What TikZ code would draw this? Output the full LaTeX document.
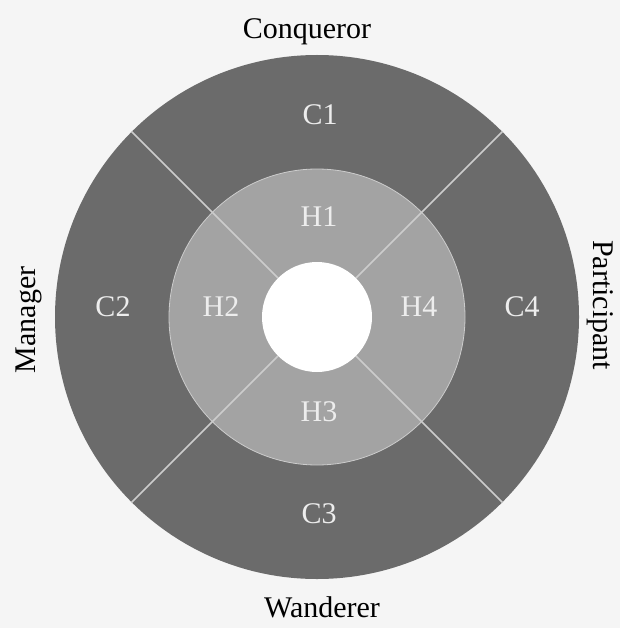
\documentclass[tikz,border=0pt]{standalone}
\usepackage{fontspec}
\setmainfont{Liberation Serif}
\usepackage{tikz}
\usetikzlibrary{calc}
\definecolor{outergray}{gray}{0.42}
\definecolor{ringgray}{gray}{0.64}
\definecolor{linegray}{gray}{0.80}
\definecolor{labelgray}{gray}{0.93}
\definecolor{paper}{gray}{0.96}

\begin{document}
\begin{tikzpicture}[x=1pt,y=-1pt,
    seglabel/.style={text=labelgray,font=\fontsize{30}{36}\selectfont,inner sep=0pt},
    sidelabel/.style={text=black,font=\fontsize{30}{36}\selectfont,inner sep=0pt,anchor=base}]
          \fill[paper] (0,0) rectangle (620,628);
          \useasboundingbox (0,0) rectangle (620,628);
          \coordinate (o) at (317,317);
          \fill[outergray] (o) circle (262pt);
          \fill[ringgray] (o) circle (148pt);
          \draw[linegray, line width=0.8pt] (o) circle (148pt);
          \foreach \a in {45,135,225,315}
            \draw[linegray, line width=1.5pt] ($(o)+(\a:55pt)$) -- ($(o)+(\a:262pt)$);
          \fill[white] (o) circle (55pt);
          % sectors
          \node[seglabel] (c1) at (320,115) {C1};
          \node[seglabel] (c2) at (113,307) {C2};
          \node[seglabel] (c3) at (319,514) {C3};
          \node[seglabel] (c4) at (522,307) {C4};
          \node[seglabel] (h1) at (319,217) {H1};
          \node[seglabel] (h2) at (221,307) {H2};
          \node[seglabel] (h3) at (319,412) {H3};
          \node[seglabel] (h4) at (419,307) {H4};
          % player types
          \node[sidelabel] (conq) at (307,38.5) {Conqueror};
          \node[sidelabel] (wand) at (322,617) {Wanderer};
          \node[sidelabel, rotate=90] (man) at (35,320) {Manager};
          \node[sidelabel, rotate=-90] (part) at (593,305) {Participant};
        \end{tikzpicture}
\end{document}
